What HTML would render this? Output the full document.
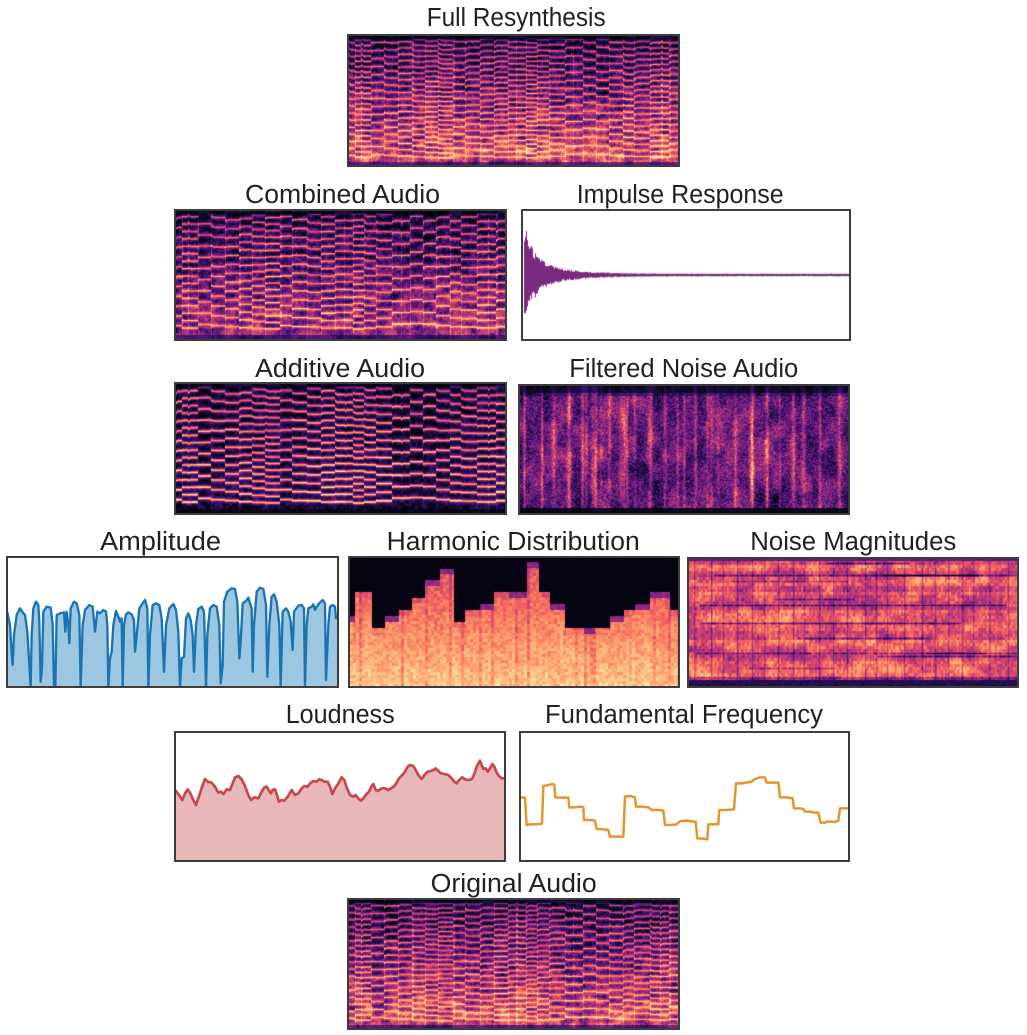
<!DOCTYPE html>
<html><head><meta charset="utf-8">
<style>
html,body{margin:0;padding:0;background:#fff;}
body{width:1027px;height:1035px;position:relative;overflow:hidden;}
canvas{position:absolute;display:block;}
svg{position:absolute;left:0;top:0;}
</style></head><body>
<canvas id="c_full" style="left:349px;top:36px;background:#5a1a6e" width="329" height="129"></canvas>
<canvas id="c_comb" style="left:176px;top:211px;background:#5a1a6e" width="329" height="128"></canvas>
<canvas id="c_imp" style="left:523px;top:211px;background:#fff" width="326" height="128"></canvas>
<canvas id="c_add" style="left:176px;top:384px;background:#2a0a3a" width="329" height="129"></canvas>
<canvas id="c_filt" style="left:520px;top:386px;background:#3a1050" width="328" height="127"></canvas>
<canvas id="c_harm" style="left:350px;top:558px;background:#f08a60" width="328" height="128"></canvas>
<canvas id="c_nmag" style="left:689px;top:559px;background:#d04a68" width="328" height="127"></canvas>
<canvas id="c_orig" style="left:349px;top:900px;background:#5a1a6e" width="329" height="128"></canvas>

<svg width="1027" height="1035" xmlns="http://www.w3.org/2000/svg">
<defs>
<clipPath id="clA"><rect x="8" y="558" width="329" height="128"/></clipPath>
<clipPath id="clL"><rect x="176" y="733" width="328" height="127"/></clipPath>
<clipPath id="clF"><rect x="521" y="733" width="327" height="127"/></clipPath>
</defs>
<g clip-path="url(#clA)"><g transform="translate(0 525) scale(0.333333)">
<path fill="#9dc6e0" stroke="none" d="M18,262 L22,262 L30,300 L35,385 L38,420 L42,330 L50,270 L60,250 L68,262 L75,270 L82,320 L88,420 L92,485 L95,330 L100,250 L108,230 L115,240 L118,290 L122,470 L126,430 L130,260 L140,245 L152,248 L158,300 L162,485 L166,485 L170,270 L180,265 L192,262 L196,320 L200,260 L205,300 L208,355 L212,250 L222,230 L230,235 L238,270 L242,485 L248,300 L255,255 L268,240 L278,245 L285,320 L292,260 L300,265 L310,255 L318,260 L322,300 L325,485 L330,400 L335,380 L340,300 L348,258 L355,275 L360,290 L365,280 L368,485 L372,300 L378,268 L385,262 L395,268 L402,285 L405,380 L410,330 L418,250 L428,235 L435,225 L442,250 L445,485 L450,330 L458,240 L468,235 L478,240 L485,280 L492,440 L498,300 L508,250 L520,237 L528,255 L535,320 L540,485 L545,400 L552,395 L558,280 L565,265 L572,285 L578,330 L582,440 L588,300 L595,252 L605,245 L612,260 L618,485 L622,330 L630,250 L640,240 L650,245 L658,300 L662,475 L668,420 L672,230 L682,200 L695,190 L705,192 L712,230 L718,400 L722,350 L728,235 L738,228 L745,218 L750,235 L755,250 L758,440 L762,300 L770,200 L780,188 L790,192 L798,240 L802,455 L808,300 L815,215 L822,208 L830,230 L838,300 L842,485 L848,260 L858,250 L865,260 L872,290 L878,375 L882,260 L895,242 L905,240 L912,250 L915,485 L920,300 L925,250 L935,245 L940,238 L945,255 L950,245 L960,232 L968,225 L975,235 L978,465 L985,300 L990,245 L998,240 L1005,245 L1008,280 L1012,275 L1012,495 L18,495 Z"/>
<path fill="none" stroke="#1874b3" stroke-width="7" stroke-linejoin="round" d="M18,262 L22,262 L30,300 L35,385 L38,420 L42,330 L50,270 L60,250 L68,262 L75,270 L82,320 L88,420 L92,485 L95,330 L100,250 L108,230 L115,240 L118,290 L122,470 L126,430 L130,260 L140,245 L152,248 L158,300 L162,485 L166,485 L170,270 L180,265 L192,262 L196,320 L200,260 L205,300 L208,355 L212,250 L222,230 L230,235 L238,270 L242,485 L248,300 L255,255 L268,240 L278,245 L285,320 L292,260 L300,265 L310,255 L318,260 L322,300 L325,485 L330,400 L335,380 L340,300 L348,258 L355,275 L360,290 L365,280 L368,485 L372,300 L378,268 L385,262 L395,268 L402,285 L405,380 L410,330 L418,250 L428,235 L435,225 L442,250 L445,485 L450,330 L458,240 L468,235 L478,240 L485,280 L492,440 L498,300 L508,250 L520,237 L528,255 L535,320 L540,485 L545,400 L552,395 L558,280 L565,265 L572,285 L578,330 L582,440 L588,300 L595,252 L605,245 L612,260 L618,485 L622,330 L630,250 L640,240 L650,245 L658,300 L662,475 L668,420 L672,230 L682,200 L695,190 L705,192 L712,230 L718,400 L722,350 L728,235 L738,228 L745,218 L750,235 L755,250 L758,440 L762,300 L770,200 L780,188 L790,192 L798,240 L802,455 L808,300 L815,215 L822,208 L830,230 L838,300 L842,485 L848,260 L858,250 L865,260 L872,290 L878,375 L882,260 L895,242 L905,240 L912,250 L915,485 L920,300 L925,250 L935,245 L940,238 L945,255 L950,245 L960,232 L968,225 L975,235 L978,465 L985,300 L990,245 L998,240 L1005,245 L1008,280 L1012,275"/>
</g></g>

<g clip-path="url(#clL)"><g transform="translate(165 700) scale(0.333333)">
<path fill="#e8b7b8" stroke="none" d="M28,272 L32,272 L42,285 L52,300 L60,280 L68,268 L76,280 L85,300 L93,315 L100,295 L108,270 L115,250 L120,237 L128,245 L140,248 L150,260 L160,278 L168,275 L176,282 L185,268 L195,270 L203,250 L210,232 L220,228 L230,238 L240,258 L250,285 L258,300 L268,292 L280,295 L290,275 L298,262 L305,260 L312,272 L318,280 L323,270 L330,268 L336,285 L342,305 L350,300 L358,302 L368,290 L380,270 L390,285 L400,280 L410,265 L418,258 L428,260 L435,250 L445,243 L455,245 L462,238 L470,240 L478,245 L488,245 L495,260 L502,282 L510,265 L520,250 L530,232 L538,240 L545,262 L555,285 L565,290 L572,285 L580,295 L588,302 L595,295 L602,285 L612,275 L620,258 L625,252 L632,270 L640,272 L650,265 L660,265 L670,270 L678,265 L688,258 L695,248 L702,235 L712,225 L720,215 L728,200 L735,195 L745,198 L752,210 L760,225 L770,237 L778,225 L788,215 L798,213 L805,210 L812,205 L820,213 L828,220 L838,222 L850,225 L860,235 L868,245 L875,250 L882,240 L892,232 L900,238 L910,240 L920,238 L928,222 L935,200 L945,182 L950,195 L955,207 L962,205 L968,215 L975,205 L982,192 L988,200 L995,218 L1002,228 L1010,235 L1022,235 L1022,495 L28,495 Z"/>
<path fill="none" stroke="#c8464e" stroke-width="8" stroke-linejoin="round" d="M28,272 L32,272 L42,285 L52,300 L60,280 L68,268 L76,280 L85,300 L93,315 L100,295 L108,270 L115,250 L120,237 L128,245 L140,248 L150,260 L160,278 L168,275 L176,282 L185,268 L195,270 L203,250 L210,232 L220,228 L230,238 L240,258 L250,285 L258,300 L268,292 L280,295 L290,275 L298,262 L305,260 L312,272 L318,280 L323,270 L330,268 L336,285 L342,305 L350,300 L358,302 L368,290 L380,270 L390,285 L400,280 L410,265 L418,258 L428,260 L435,250 L445,243 L455,245 L462,238 L470,240 L478,245 L488,245 L495,260 L502,282 L510,265 L520,250 L530,232 L538,240 L545,262 L555,285 L565,290 L572,285 L580,295 L588,302 L595,295 L602,285 L612,275 L620,258 L625,252 L632,270 L640,272 L650,265 L660,265 L670,270 L678,265 L688,258 L695,248 L702,235 L712,225 L720,215 L728,200 L735,195 L745,198 L752,210 L760,225 L770,237 L778,225 L788,215 L798,213 L805,210 L812,205 L820,213 L828,220 L838,222 L850,225 L860,235 L868,245 L875,250 L882,240 L892,232 L900,238 L910,240 L920,238 L928,222 L935,200 L945,182 L950,195 L955,207 L962,205 L968,215 L975,205 L982,192 L988,200 L995,218 L1002,228 L1010,235 L1022,235"/>
</g></g>

<g clip-path="url(#clF)"><g transform="translate(510 700) scale(0.333333)">
<path fill="none" stroke="#e3962c" stroke-width="7.5" stroke-linejoin="round" d="M28,293 L45,293 L50,375 L60,373 L92,372 L96,370 L100,258 L115,255 L128,252 L133,255 L136,292 L150,293 L175,293 L178,322 L195,322 L215,320 L220,322 L222,360 L240,360 L255,362 L260,387 L280,388 L295,390 L300,410 L320,410 L340,410 L345,290 L360,288 L375,292 L378,320 L395,320 L415,322 L425,330 L445,330 L460,332 L465,375 L480,375 L500,373 L505,368 L512,363 L530,362 L552,365 L557,365 L562,415 L580,416 L592,418 L595,373 L610,373 L625,372 L628,330 L648,330 L672,328 L678,250 L695,250 L712,247 L722,246 L735,237 L750,232 L765,232 L770,248 L785,248 L805,248 L810,292 L830,292 L848,295 L852,325 L870,325 L880,327 L885,335 L900,335 L915,338 L925,338 L932,368 L945,368 L950,365 L962,365 L975,366 L985,362 L990,325 L1005,325 L1022,325"/>
</g></g>

<g fill="none" stroke="#3d3d3d" stroke-width="2">
<rect x="348" y="35" width="331" height="131"/>
<rect x="175" y="210" width="331" height="130"/>
<rect x="522" y="210" width="328" height="130"/>
<rect x="175" y="383" width="331" height="131"/>
<rect x="519" y="385" width="330" height="129"/>
<rect x="7" y="557" width="331" height="130"/>
<rect x="349" y="557" width="330" height="130"/>
<rect x="688" y="558" width="330" height="129"/>
<rect x="175" y="732" width="330" height="129"/>
<rect x="520" y="732" width="329" height="129"/>
<rect x="348" y="899" width="331" height="130"/>
</g>

<g font-family="'Liberation Sans', sans-serif" font-size="25.5" fill="#231f20">
<text x="426.7" y="26" textLength="179" lengthAdjust="spacingAndGlyphs">Full Resynthesis</text>
<text x="245" y="203" textLength="195" lengthAdjust="spacingAndGlyphs">Combined Audio</text>
<text x="576.7" y="203" textLength="207" lengthAdjust="spacingAndGlyphs">Impulse Response</text>
<text x="255" y="377" textLength="170" lengthAdjust="spacingAndGlyphs">Additive Audio</text>
<text x="569.3" y="377" textLength="229" lengthAdjust="spacingAndGlyphs">Filtered Noise Audio</text>
<text x="100" y="550" textLength="121" lengthAdjust="spacingAndGlyphs">Amplitude</text>
<text x="386.7" y="550" textLength="253" lengthAdjust="spacingAndGlyphs">Harmonic Distribution</text>
<text x="750.3" y="550" textLength="206" lengthAdjust="spacingAndGlyphs">Noise Magnitudes</text>
<text x="285.7" y="723" textLength="109" lengthAdjust="spacingAndGlyphs">Loudness</text>
<text x="545" y="723" textLength="278" lengthAdjust="spacingAndGlyphs">Fundamental Frequency</text>
<text x="430.7" y="892" textLength="166" lengthAdjust="spacingAndGlyphs">Original Audio</text>
</g>
</svg>

<script>
function R(seed){var s=(seed>>>0)||1;return function(){s^=s<<13;s>>>=0;s^=s>>>17;s^=s<<5;s>>>=0;return s/4294967296;};}
var M=[[0,0,4],[20,14,54],[59,15,112],[100,26,128],[140,41,129],[183,55,121],[222,73,104],[247,112,92],[254,159,109],[254,207,146],[252,253,191]];
function mag(v){v=v<0?0:(v>1?1:v);var f=v*10,i=Math.min(9,Math.floor(f)),t=f-i,a=M[i],b=M[i+1];return[a[0]+(b[0]-a[0])*t,a[1]+(b[1]-a[1])*t,a[2]+(b[2]-a[2])*t];}
function VN(w,h,cw,ch,rnd){var gw=Math.ceil(w/cw)+3,gh=Math.ceil(h/ch)+3;var g=new Float32Array(gw*gh);for(var i=0;i<g.length;i++)g[i]=rnd();
 return function(x,y){var fx=x/cw,fy=y/ch,ix=Math.floor(fx),iy=Math.floor(fy),tx=fx-ix,ty=fy-iy;var sx=tx*tx*(3-2*tx),sy=ty*ty*(3-2*ty);
 var a=g[iy*gw+ix],b=g[iy*gw+ix+1],c=g[(iy+1)*gw+ix],d=g[(iy+1)*gw+ix+1];return a+(b-a)*sx+(c-a)*sy+(a-b-c+d)*sx*sy;};}
function paint(id,fn){var c=document.getElementById(id);var w=c.width,h=c.height;var ctx=c.getContext('2d');var im=ctx.createImageData(w,h);var d=im.data;
 for(var y=0;y<h;y++)for(var x=0;x<w;x++){var col=mag(fn(x,y,w,h));var i=(y*w+x)*4;d[i]=col[0];d[i+1]=col[1];d[i+2]=col[2];d[i+3]=255;}
 ctx.putImageData(im,0,0);}
var NS=[0,.0153,.0662,.1039,.1466,.1914,.2291,.2699,.3157,.3503,.3961,.4379,.4807,.5367,.5703,.6049,.6548,.7098,.7485,.7892,.8320,.8656,.9134,.9725,1];
var NY=[293,374,256,293,322,360,388,410,290,321,330,374,365,416,373,330,249,237,248,292,325,336,367,325];

function audio(id,seed,o){
 var rnd=R(seed);var c=document.getElementById(id);var w=c.width,h=c.height;
 var notes=[];
 for(var i=0;i<NY.length;i++){var a=NS[i],b=NS[i+1];var f=Math.pow(2,(375-NY[i])/200);
  if(b-a>0.05){var m=(a+b)/2+(rnd()-0.5)*0.01;notes.push({a:a,b:m,f:f});notes.push({a:m,b:b,f:f});}else notes.push({a:a,b:b,f:f});}
 notes.forEach(function(n){n.amp=0.88+rnd()*0.12;n.ha=[];for(var k=0;k<60;k++)n.ha.push(rnd());n.x0=n.a*w;n.x1=n.b*w;n.bend=(rnd()-0.5)*0.04;});
 var vn=VN(w,h,3,3,rnd),vn2=VN(w,h,9,6,rnd);
 var col=new Int32Array(w);for(var x=0;x<w;x++){var j=0;while(j<notes.length-1&&x>=notes[j+1].x0)j++;col[x]=j;}
 paint(id,function(x,y){
  var n=notes[col[x]];var rel=(x-n.x0)/Math.max(1,(n.x1-n.x0));
  var s=o.sp*n.f*(1+n.bend*Math.max(0,1-rel*4));
  var yb=h-o.bot-y;var t=y/h;
  var base=o.lo+(o.hi-o.lo)*Math.pow(t,o.pw||1);
  var bl=vn2(x,y);
  var nz=base*(0.55+0.9*bl)+(rnd()-0.5)*o.nz+(vn(x,y)-0.5)*o.bn;
  var v=nz;var q=yb/s;var k=Math.round(q);var dd=(q-k)*s;
  if(k>=1){
   var g=Math.exp(-dd*dd/(2*o.sg*o.sg));var halo=Math.exp(-dd*dd/8);
   var lt=(o.lt0+(o.lt1-o.lt0)*Math.pow(t,0.8))*n.amp+(n.ha[k%60]-0.5)*o.lv;
   v=nz+halo*o.halo;
   v=Math.max(v,lt*g+v*(1-g));
   v-=o.gap*(1-g)*(Math.abs(dd)/s)*(1-t*0.6);
  }
  if(n.x0>0&&x-n.x0<1.2)v+=o.on;
  if(y<o.top)v*=0.25;else if(y<o.top+2)v*=0.7;
  if(y>=h-o.bot)v*=0.45;
  return v;});
}

function filtered(id,seed){
 var rnd=R(seed);var c=document.getElementById(id);var w=c.width,h=c.height;
 var S=[];NS.slice(1,-1).forEach(function(f){S.push({x:f*w+(rnd()-0.5)*2,a:0.12+rnd()*0.2,wd:0.7+rnd()*0.9});});
 for(var i=0;i<18;i++)S.push({x:rnd()*w,a:0.08+rnd()*0.14,wd:0.6+rnd()*0.9});
 var cs=new Float32Array(w);for(var x=0;x<w;x++){var sm=0;S.forEach(function(s){var d=x-s.x;sm+=s.a*Math.exp(-d*d/(2*s.wd*s.wd));});cs[x]=sm;}
 var vn=VN(w,h,8,14,rnd),vm=VN(w,h,3,16,rnd),vf=VN(w,h,2,2,rnd),vb=VN(w,h,20,30,rnd);
 paint(id,function(x,y){
  var t=y/h;
  var v=0.24+0.05*Math.sin(t*3.1)+(vn(x,y)-0.5)*0.26+(vb(x,y)-0.5)*0.18+(rnd()-0.5)*0.3+(vf(x,y)-0.5)*0.15+cs[x]*(0.4+1.0*vm(x,y));
  if(y<7)v*=0.3;else if(y<10)v*=0.7;
  if(y>=h-5)v*=0.15;
  return v;});
}

function nmag(id,seed){
 var rnd=R(seed);var c=document.getElementById(id);var w=c.width,h=c.height;
 var BH=3,nb=Math.ceil(h/BH)+1;var bo=[],dark=[];
 for(var b=0;b<nb;b++){bo.push((rnd()-0.5)*0.16);dark.push([]);}
 for(var i=0;i<10;i++){var b2=Math.floor(rnd()*(nb-5))+1;var x0=rnd()*w*0.8;var len=30+rnd()*w*0.5;dark[b2].push([x0,x0+len,0.15+rnd()*0.2]);}
 [21,15,5,31].forEach(function(b3,ii){dark[b3].push([rnd()*30,w-rnd()*60,0.28+0.1*(ii<2?1:0)]);});
 var co=new Float32Array(w);for(var x=0;x<w;x++)co[x]=(rnd()-0.5)*0.06;
 NS.slice(1,-1).forEach(function(f){var xi=Math.round(f*w);if(xi<w)co[xi]-=0.18;if(xi+1<w)co[xi+1]-=0.05;});
 var FW=2,nf=Math.ceil(w/FW)+1;var cell=new Float32Array(nb*nf);for(var j=0;j<cell.length;j++)cell[j]=rnd();
 var vn=VN(w,h,14,10,rnd);
 paint(id,function(x,y){
  if(y<2)return 0.26+rnd()*0.06;
  if(y>=h-6)return 0.08+rnd()*0.12;
  var b=Math.floor(y/BH);
  var v=0.63+bo[b]+co[x]+(cell[b*nf+(x>>1)]-0.5)*0.2+(vn(x,y)-0.5)*0.28;
  var dl=dark[b];for(var k=0;k<dl.length;k++){if(x>=dl[k][0]&&x<dl[k][1])v-=dl[k][2]*((y%BH)==1?1:0.3);}
  if(y>=h-9)v-=0.25;
  return v;});
}

function harm(id,seed){
 var rnd=R(seed);var c=document.getElementById(id);var w=c.width,h=c.height;
 var SEG=[[28,272,1],[45,200,0],[95,308,0],[135,272,1],[175,255,0],[215,218,0],[255,165,1],[300,130,1],[340,290,0],[375,255,0],[420,237,1],[460,200,0],[505,200,1],[560,110,1],[595,200,0],[630,237,1],[675,308,0],[730,308,1],[765,308,0],[808,272,1],[850,255,0],[885,237,1],[930,200,1],[990,255,0],[1030,0,0]];
 var seg=SEG.map(function(s){return {x:s[0]/3-10,top:s[1]/3-33,p:s[2]};});
 var rowOff=3.7,rowH=6;
 var FW=3,nf=Math.ceil(w/FW)+1,CH=3,nr=Math.ceil(h/CH)+1;
 var cell=new Float32Array(nf*nr);for(var i=0;i<cell.length;i++)cell[i]=rnd();
 var fo=new Float32Array(nf);for(var j=0;j<nf;j++)fo[j]=rnd()<0.1?-0.08:(rnd()-0.5)*0.04;
 var col=new Int32Array(w);for(var x=0;x<w;x++){var k=0;while(k<seg.length-2&&x>=seg[k+1].x)k++;col[x]=k;}
 paint(id,function(x,y){
  var s=seg[col[x]];var top=s.top;
  var f=Math.floor(x/FW);
  if(y<top)return 0.02+rnd()*0.02;
  var r=Math.floor((y-rowOff)/rowH),tr=Math.floor((top+0.5-rowOff)/rowH);
  var t=y/h;
  var v=0.6+0.28*t+(cell[Math.floor(y/CH)*nf+f]-0.5)*0.14+fo[f]+(rnd()-0.5)*0.04;
  if(r==tr){v=s.p?(0.33+cell[Math.floor(y/CH)*nf+f]*0.12):v-0.06;}
  return v;});
}

function imp(){
 var c=document.getElementById('c_imp');var ctx=c.getContext('2d');var w=c.width,h=c.height;var rnd=R(77);var cy=64;
 ctx.fillStyle='#fff';ctx.fillRect(0,0,w,h);ctx.fillStyle='#7b2a7f';
 for(var x=1;x<w;x++){var dx=x-1;var e=35*Math.exp(-dx/8)+18*Math.exp(-dx/30)+1.4;
  var up=e*(0.62+0.38*rnd()),dn=e*(0.62+0.38*rnd());ctx.fillRect(x,cy-up,1,up+dn);}
}

try{
audio('c_full',11,{sp:5.3,lo:0.12,hi:0.56,pw:1.2,nz:0.24,bn:0.22,sg:0.62,lt0:0.6,lt1:1.0,lv:0.14,halo:0.14,gap:0.3,on:0.14,top:3,bot:3});
audio('c_orig',23,{sp:5.3,lo:0.12,hi:0.56,pw:1.2,nz:0.24,bn:0.22,sg:0.62,lt0:0.6,lt1:1.0,lv:0.14,halo:0.14,gap:0.3,on:0.14,top:3,bot:3});
audio('c_comb',37,{sp:7.4,lo:0.14,hi:0.44,pw:1.0,nz:0.24,bn:0.22,sg:0.65,lt0:0.66,lt1:0.98,lv:0.14,halo:0.12,gap:0.3,on:0.16,top:3,bot:4});
audio('c_add',53,{sp:7.4,lo:0.03,hi:0.1,pw:1.0,nz:0.12,bn:0.2,sg:0.8,lt0:0.72,lt1:1.0,lv:0.14,halo:0.22,gap:0.06,on:0.06,top:3,bot:4});
filtered('c_filt',61);
nmag('c_nmag',71);
harm('c_harm',83);
imp();
}catch(e){}
</script>
</body></html>
